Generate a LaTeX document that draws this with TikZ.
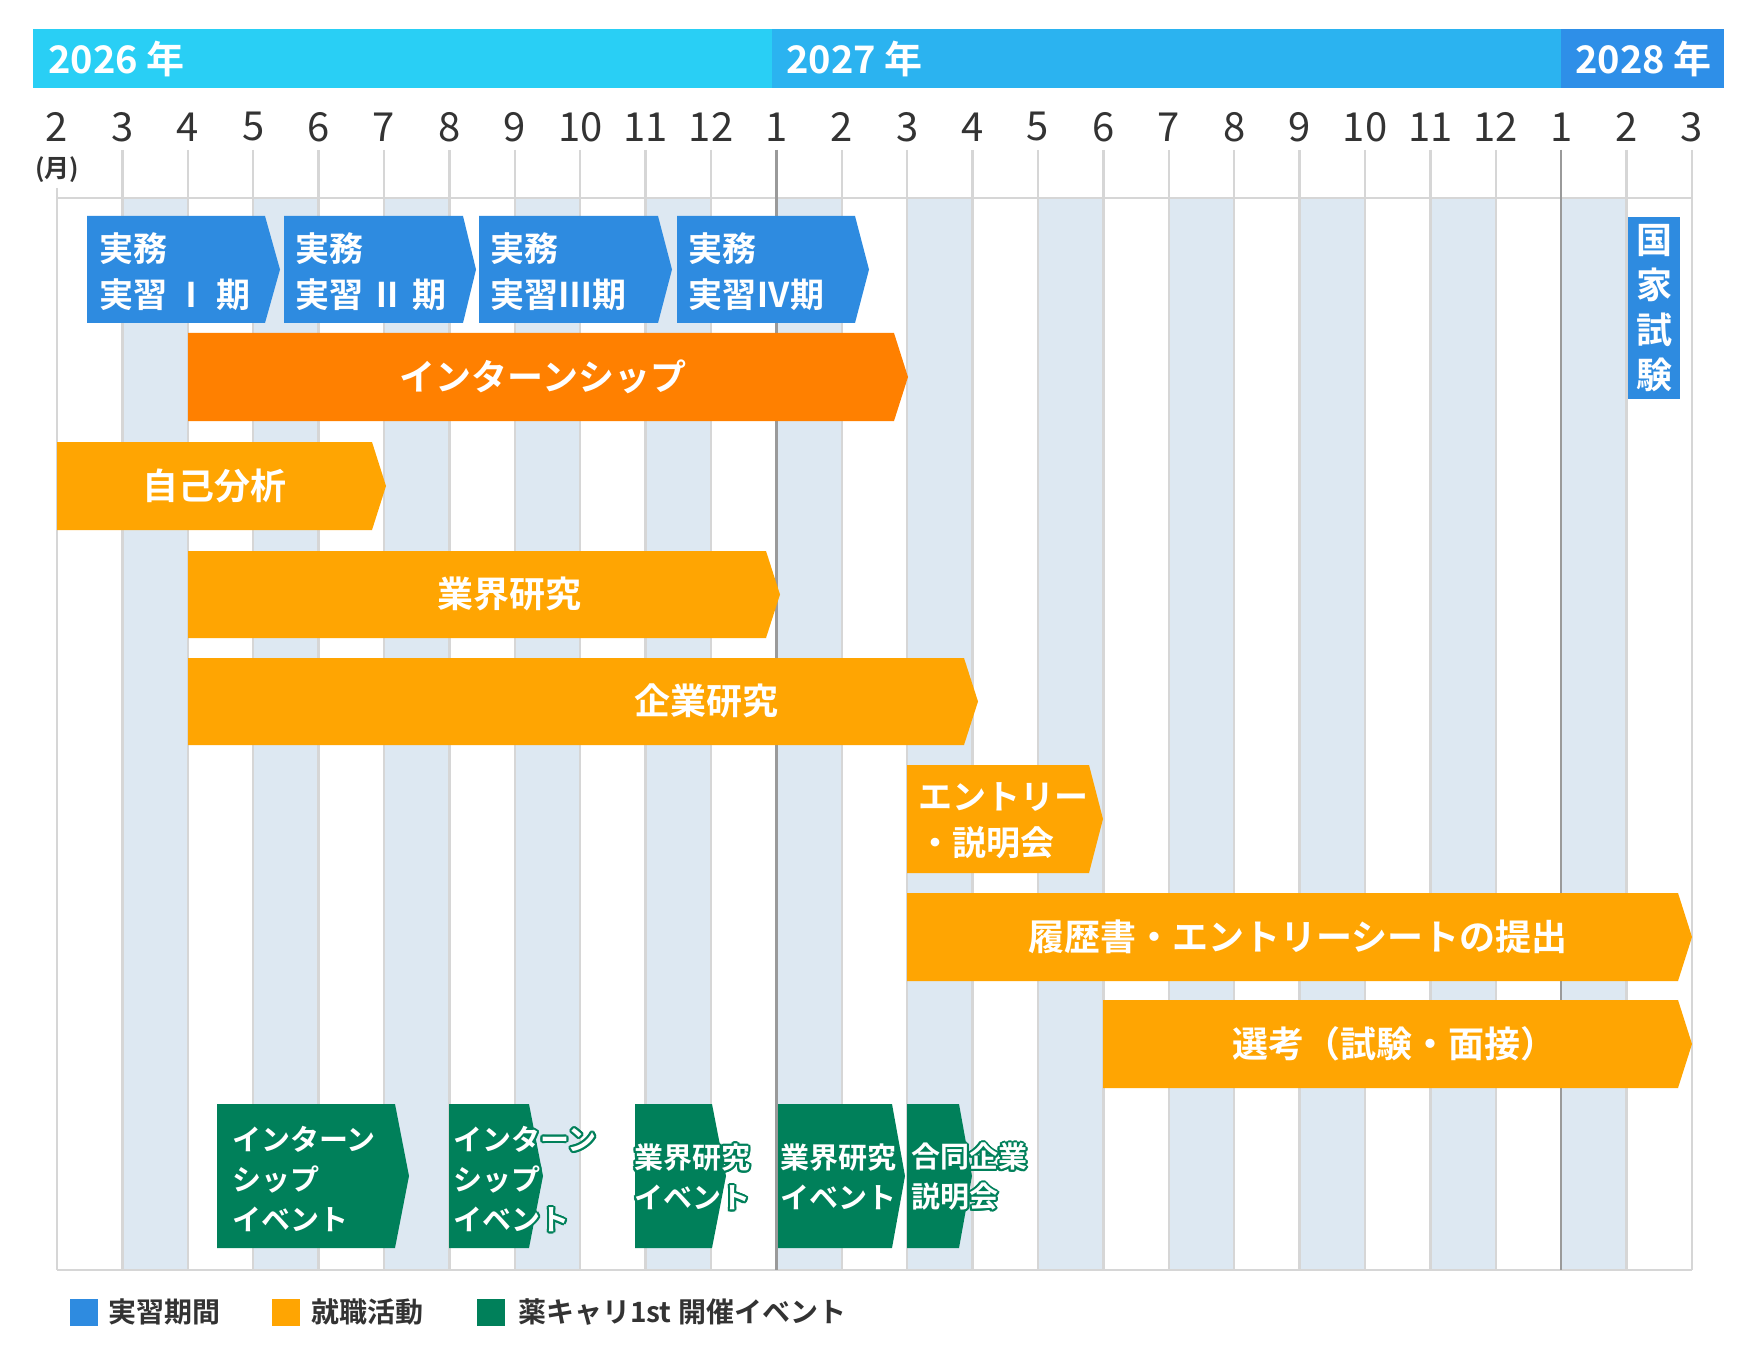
\documentclass[tikz,border=0pt]{standalone}
\usepackage{fontspec}
\usepackage{contour}
\setmainfont{Noto Sans CJK JP}[BoldFont={Noto Sans CJK JP Bold}]
\definecolor{hA}{HTML}{29CFF5}
\definecolor{hB}{HTML}{2BB3F0}
\definecolor{hC}{HTML}{2E8FE8}
\definecolor{bl}{HTML}{2E8BE0}
\definecolor{orD}{HTML}{FF8000}
\definecolor{orL}{HTML}{FFA502}
\definecolor{gr}{HTML}{00805A}
\definecolor{cshade}{HTML}{DDE8F2}
\definecolor{gline}{HTML}{D6D6D6}
\definecolor{dline}{HTML}{9A9A9A}
\definecolor{txt}{HTML}{333333}
\contourlength{2pt}
\newcommand{\gbar}[6]{\fill[#6] (#1,#4) -- (#2,#4) -- (#3,{(#4+#5)/2}) -- (#2,#5) -- (#1,#5) -- cycle;}
\tikzset{
 wt/.style={text=white,font=\bfseries\fontsize{36}{40}\selectfont,inner sep=0pt},
 wtl/.style={wt,anchor=west,align=left,font=\bfseries\fontsize{34}{46}\selectfont},
 gt/.style={text=white,anchor=west,align=left,inner sep=0pt,font=\bfseries\fontsize{29}{40}\selectfont},
 mon/.style={text=txt,font=\fontsize{40}{40}\selectfont,inner sep=0pt},
 leg/.style={text=txt,anchor=west,inner sep=0pt,font=\bfseries\fontsize{28}{30}\selectfont},
 yr/.style={text=white,anchor=west,inner sep=0pt,font=\bfseries\fontsize{38}{40}\selectfont}
}
\begin{document}
\begin{tikzpicture}[x=1pt,y=-1pt]
\useasboundingbox (0,0) rectangle (1754,1356);
\fill[white] (0,0) rectangle (1754,1356);
% header
\fill[hA] (33,29) rectangle (772,88);
\fill[hB] (772,29) rectangle (1561,88);
\fill[hC] (1561,29) rectangle (1724,88);
\node[yr] (y26) at (48,59) {2026 年};
\node[yr] (y27) at (786,59) {2027 年};
\node[yr] (y28) at (1575,59) {2028 年};
% shading
\foreach \i in {1,3,...,23} {\fill[cshade] ({57+65.4*\i},198) rectangle ({57+65.4*(\i+1)},1270);}
% grid
\foreach \i in {1,...,25} {\draw[gline,line width=2.5pt] ({57+65.4*\i},150) -- ({57+65.4*\i},1270);}
\draw[gline,line width=2.5pt] (57,188) -- (57,1270);
\draw[gline,line width=2.5pt] (57,198) -- (1692,198);
\draw[gline,line width=2.5pt] (57,1270) -- (1692,1270);
\foreach \i in {11,23} {\draw[dline,line width=2.5pt] ({57+65.4*\i},150) -- ({57+65.4*\i},1270);}
% month labels
\foreach \m [count=\c from 0] in {2,3,4,5,6,7,8,9,10,11,12,1,2,3,4,5,6,7,8,9,10,11,12,1,2,3}
 {\node[mon] (m\c) at ({57+65.4*\c},127) {\m};}
\node[text=txt,inner sep=0pt,font=\bfseries\fontsize{25}{26}\selectfont] (unit) at (57,170) {(月)};
% practicum bars
\gbar{87}{265}{280}{216}{323}{bl}
\gbar{284}{463}{476}{216}{323}{bl}
\gbar{479}{658}{672}{216}{323}{bl}
\gbar{677}{855}{869}{216}{323}{bl}
\node[wtl] (p1) at (99,272) {実務\\実習 Ⅰ 期};
\node[wtl] (p2) at (295,272) {実務\\実習 Ⅱ 期};
\node[wtl] (p3) at (490,272) {実務\\実習Ⅲ期};
\node[wtl] (p4) at (688,272) {実務\\実習Ⅳ期};
% national exam
\fill[bl] (1628,217) rectangle (1680,399);
\node[wt,align=center,font=\bfseries\fontsize{36}{45}\selectfont] (ne) at (1654,308) {国\\家\\試\\験};
% orange bars
\gbar{188}{894}{908}{333}{421}{orD}
\node[wt] (intern) at (543,377) {インターンシップ};
\gbar{57}{372}{386}{442}{530}{orL}
\node[wt] (self) at (214,486) {自己分析};
\gbar{188}{766}{780}{551}{638}{orL}
\node[wt] (ind) at (509,594) {業界研究};
\gbar{188}{964}{978}{658}{745}{orL}
\node[wt] (comp) at (706,701) {企業研究};
\gbar{907}{1089}{1103}{765}{873}{orL}
\node[wtl] (entry) at (918,821) {エントリー\\・説明会};
\gbar{907}{1678}{1692}{893}{981}{orL}
\node[wt] (es) at (1298,937) {履歴書・エントリーシートの提出};
\gbar{1103}{1678}{1692}{1000}{1088}{orL}
\node[wt] (sel) at (1394,1044) {選考（試験・面接）};
% green events
\gbar{217}{395}{409}{1104}{1248}{gr}
\gbar{449}{529}{543}{1104}{1248}{gr}
\gbar{635}{712}{726}{1104}{1248}{gr}
\gbar{778}{892}{905}{1104}{1248}{gr}
\gbar{907}{959}{972}{1104}{1248}{gr}
\node[gt] (e1) at (232,1180) {\contour{gr}{インターン}\\\contour{gr}{シップ}\\\contour{gr}{イベント}};
\node[gt] (e2) at (453,1180) {\contour{gr}{インターン}\\\contour{gr}{シップ}\\\contour{gr}{イベント}};
\node[gt] (e3) at (634,1178) {\contour{gr}{業界研究}\\\contour{gr}{イベント}};
\node[gt] (e4) at (780,1178) {\contour{gr}{業界研究}\\\contour{gr}{イベント}};
\node[gt] (e5) at (911,1178) {\contour{gr}{合同企業}\\\contour{gr}{説明会}};
% legend
\fill[bl] (70,1299) rectangle (98,1326);
\node[leg] (l1) at (108,1312) {実習期間};
\fill[orL] (272,1299) rectangle (300,1326);
\node[leg] (l2) at (311,1312) {就職活動};
\fill[gr] (477,1299) rectangle (505,1326);
\node[leg] (l3) at (518,1312) {薬キャリ1st 開催イベント};
\end{tikzpicture}
\end{document}
